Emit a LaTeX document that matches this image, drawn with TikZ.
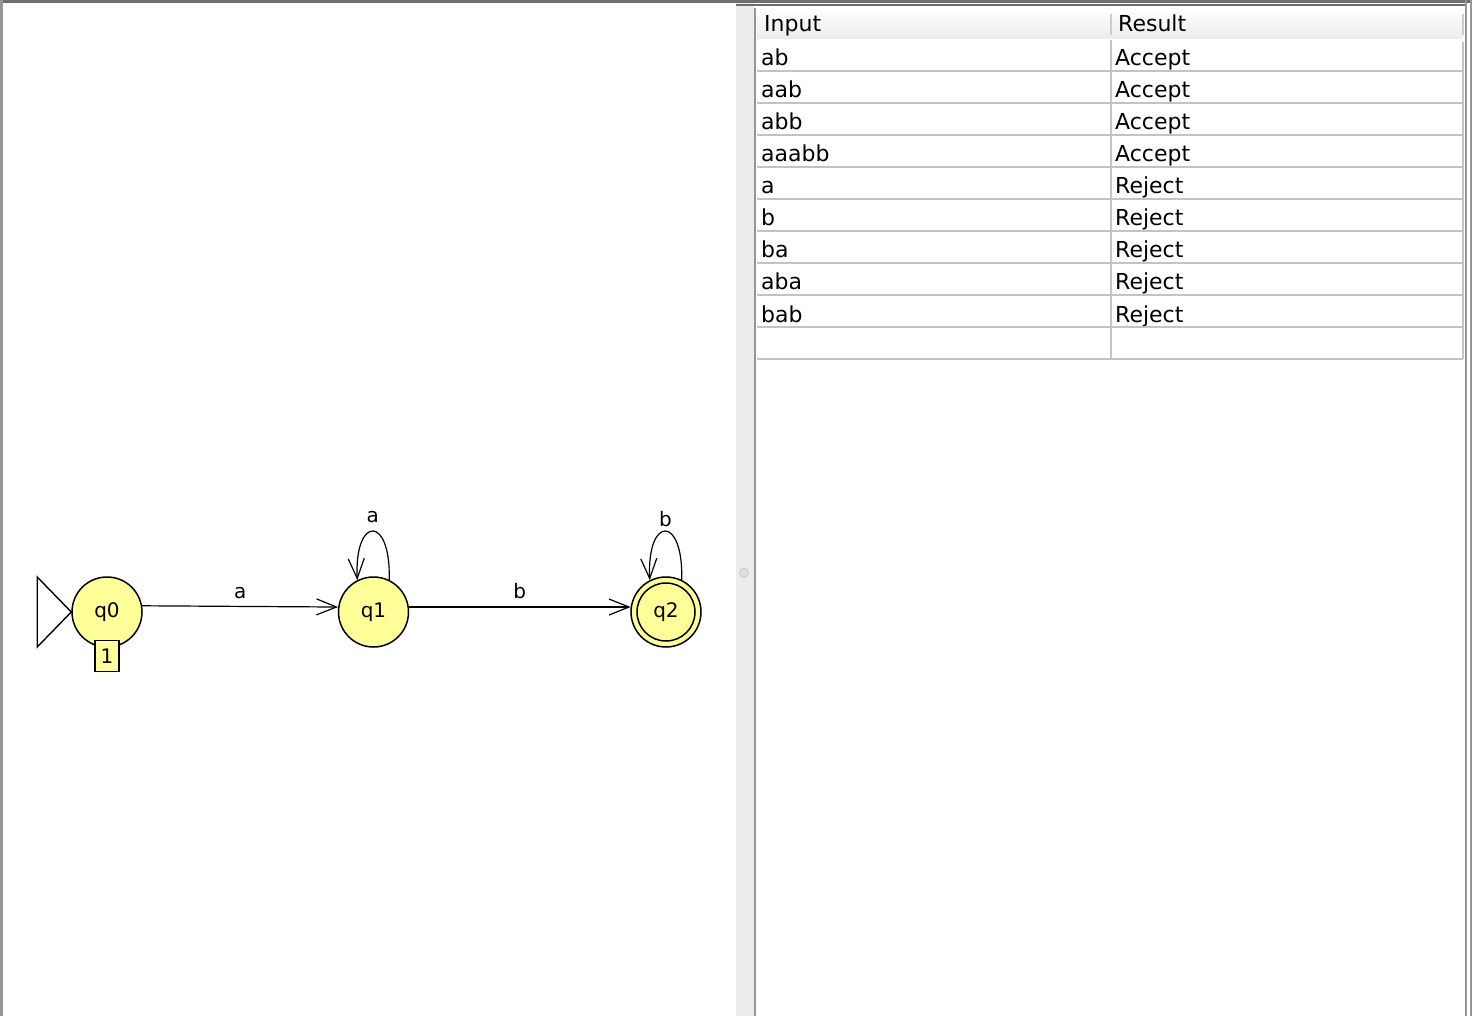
\documentclass[tikz,border=0pt]{standalone}
\usepackage{fontspec}
\setmainfont{DejaVu Sans}
\usetikzlibrary{positioning,arrows.meta}
\definecolor{stateyellow}{RGB}{255,255,153}
\definecolor{panelgray}{RGB}{236,236,236}
\definecolor{framegray}{RGB}{110,110,110}
\definecolor{edgegray}{RGB}{150,150,150}
\definecolor{gridgray}{RGB}{195,195,195}

\begin{document}
\begin{tikzpicture}[
  x=1pt, y=-1pt,
  node distance=195pt,
  every node/.style={font=\fontsize{20}{24}\selectfont},
  state/.style={circle, draw, line width=1.5pt, fill=stateyellow,
                minimum size=70pt, inner sep=0pt},
  trans/.style={-{Straight Barb[length=20pt,width=16pt]}, line width=1.2pt},
  lbl/.style={draw, line width=1.2pt, fill=stateyellow, minimum width=24pt,
              minimum height=31pt, inner sep=0pt},
  cell/.style={anchor=base west, inner sep=0pt, font=\fontsize{22}{26}\selectfont},
  rowline/.style={gridgray, line width=1.5pt}
]
  \useasboundingbox (0,0) rectangle (1472,1016);
  \fill[white] (0,0) rectangle (1472,1016);

  % window frame and splitter
  \fill[panelgray] (736,3) rectangle (754,1016);
  \draw[edgegray, line width=2pt] (755,8) -- (755,1016);
  \draw[framegray, line width=3pt] (0,1.5) -- (1472,1.5);
  \draw[edgegray, line width=2.5pt] (1.25,0) -- (1.25,1016);
  \draw[framegray, line width=1.5pt] (736,5) -- (1466,5);
  \draw[edgegray, line width=2pt] (1466,0) -- (1466,1016);
  \draw[edgegray, line width=2pt] (1470.5,0) -- (1470.5,1016);
  \draw[gray!60, fill=gray!25] (744,573) circle (4.5pt);

  % table header
  \shade[top color=white, bottom color=panelgray] (757,8) rectangle (1463,39);
  \draw[gray!40, line width=1.5pt] (1111,14) -- (1111,35);
  \draw[gray!40, line width=1.5pt] (1463,14) -- (1463,35);
  \node[cell] (hin)  at (764,32)  {Input};
  \node[cell] (hres) at (1118,32) {Result};

  % table rows
  \foreach \inp/\res [count=\i] in {ab/Accept, aab/Accept, abb/Accept, aaabb/Accept,
      a/Reject, b/Reject, ba/Reject, aba/Reject, bab/Reject} {
    \node[cell] (in\i)  at (761,34+32*\i)  {\inp};
    \node[cell] (res\i) at (1115,34+32*\i) {\res};
  }
  \foreach \k in {1,...,10}
    \draw[rowline] (757,39+32*\k) -- (1463,39+32*\k);
  \draw[rowline] (1111,40) -- (1111,359);
  \draw[gridgray, line width=1.5pt] (1463,42) -- (1463,359);

  % automaton
  \node[state] (q0) at (107,612) {q0};
  \node[state, right=of q0] (q1) {q1};
  \node[state, right=221pt of q1] (q2) {q2};
  \draw[line width=1.5pt] (q2) circle[radius=29pt];

  \draw[line width=1.4pt] (q0.west) -- ++(-34,-35) -- ++(0,70) -- cycle;
  \node[lbl] (q0box) at ([yshift=-8pt]q0.south) {1};

  \draw[trans] (q0.10) -- node[above=4pt] (ea) {a} (q1.172);
  \draw[trans] (q1.8)  -- node[above=4pt] (eb) {b} (q2.172);
  \draw[trans] (q1.64) .. controls +(2,-65) and +(-3,-65) .. node[above=5pt] (la) {a} (q1.117);
  \draw[trans] (q2.64) .. controls +(2,-65) and +(-3,-65) .. node[above=1pt] (lb) {b} (q2.117);
\end{tikzpicture}
\end{document}
